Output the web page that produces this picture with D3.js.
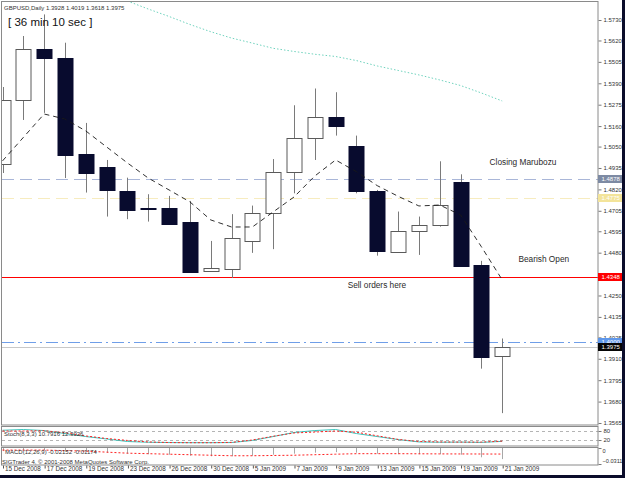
<!DOCTYPE html>
<html lang="en">
<head>
<meta charset="UTF-8">
<script src="https://cdnjs.cloudflare.com/ajax/libs/d3/7.8.4/d3.min.js"></script>
<title>GBPUSD Daily</title>
<style>
  body { margin: 0; background: #fff; }
  svg { display: block; font-family: "Liberation Sans", Arial, sans-serif; }
</style>
</head>
<body>
<script>
// ---- data ----
const dates = ["15 Dec 2008","16 Dec 2008","17 Dec 2008","18 Dec 2008","19 Dec 2008","22 Dec 2008","23 Dec 2008",
  "24 Dec 2008","26 Dec 2008","29 Dec 2008","30 Dec 2008","31 Dec 2008","5 Jan 2009","6 Jan 2009","7 Jan 2009",
  "8 Jan 2009","9 Jan 2009","12 Jan 2009","13 Jan 2009","14 Jan 2009","15 Jan 2009","16 Jan 2009","19 Jan 2009",
  "20 Jan 2009","21 Jan 2009"]
const opens  = [1.4957,1.5300,1.5573,1.5524,1.5009,1.4939,1.4813,1.4718,1.4722,1.4647,1.4382,1.4397,1.4539,
  1.4692,1.4910,1.5094,1.5207,1.5055,1.4813,1.4486,1.4600,1.4627,1.4862,1.4414,1.3928]
const highs  = [1.5370,1.5644,1.5760,1.5608,1.5177,1.4978,1.4883,1.4794,1.4785,1.4758,1.4543,1.4687,1.4733,
  1.4983,1.5272,1.5362,1.5342,1.5109,1.4817,1.4701,1.4674,1.4971,1.4901,1.4436,1.4019]
const lows   = [1.4908,1.5193,1.5231,1.4881,1.4803,1.4674,1.4660,1.4647,1.4636,1.4371,1.4378,1.4344,1.4479,
  1.4499,1.4799,1.4978,1.5109,1.4799,1.4464,1.4482,1.4468,1.4620,1.4409,1.3857,1.3618]
const closes = [1.5300,1.5573,1.5524,1.5005,1.4907,1.4813,1.4713,1.4716,1.4638,1.4378,1.4397,1.4561,1.4692,
  1.4912,1.5095,1.5207,1.5157,1.4812,1.4491,1.4598,1.4631,1.4736,1.4409,1.3922,1.3975]
const maFast = [1.4973,1.5099,1.5225,1.5198,1.5134,1.5048,1.4962,1.4881,1.4817,1.4753,1.4656,1.4618,1.4618,
  1.4699,1.4779,1.4892,1.4978,1.4915,1.4840,1.4783,1.4731,1.4736,1.4683,1.4512,1.4334]
const maSlow = [1.6079,1.6031,1.5988,1.5950,1.5913,1.5875,1.5832,1.5789,1.5749,1.5706,1.5667,1.5633,1.5606,
  1.5578,1.5561,1.5546,1.5534,1.5512,1.5483,1.5459,1.5435,1.5408,1.5378,1.5338,1.5295]
const stochMain   = [85,90,83,63,43,27,10,5,3,2,2,3,17,43,70,83,90,63,43,23,7,5,6,4,10.79]
const stochSignal = [80,80,82,68,47,30,17,7,3,2,2,4,20,45,67,73,80,72,48,24,10,7,6,6,12.30]
const macdHist   = [-0.006,-0.005,-0.004,-0.005,-0.007,-0.009,-0.011,-0.012,-0.013,-0.015,-0.016,-0.016,-0.015,
  -0.013,-0.011,-0.009,-0.008,-0.009,-0.011,-0.012,-0.012,-0.012,-0.013,-0.018,-0.02152]
const macdSignal = [-0.004,-0.004,-0.004,-0.005,-0.006,-0.008,-0.010,-0.011,-0.012,-0.013,-0.014,-0.015,-0.015,
  -0.0145,-0.014,-0.013,-0.012,-0.011,-0.011,-0.011,-0.0112,-0.0114,-0.0115,-0.0116,-0.01174]
const priceTicks = [1.5730,1.5620,1.5505,1.5390,1.5275,1.5160,1.5050,1.4935,1.4820,1.4705,1.4595,1.4480,
  1.4365,1.4250,1.4135,1.4025,1.3910,1.3795,1.3680,1.3565]
const levelPrices = [1.4878, 1.4775, 1.4348, 1.4000, 1.3975]
const noteTexts = ["Closing Marubozu", "Bearish Open", "Sell orders here"]
const notePrices = [1.4950, 1.4430, 1.4288]
const noteDates = ["19 Jan 2009", "20 Jan 2009", "9 Jan 2009"]

// ---- layout ----
const W = 625, H = 478
const L = 2, R = 598
const svg = d3.select("body").append("svg").attr("width", W).attr("height", H)

const x = d3.scalePoint().domain(dates).range([2.5, 502.2])
const y = d3.scaleLinear().domain([1.3565, 1.5730]).range([423, 20])
const sy = d3.scaleLinear().domain([0, 100]).range([443, 428])
const my = d3.scaleLinear().domain([-0.033, 0.002]).range([465, 447])
const cx = d => Math.round(x(d)) + 0.5

svg.append("rect").attr("width", W).attr("height", H).attr("fill", "#fff")

const defs = svg.append("defs")
defs.append("clipPath").attr("id", "mainclip").append("rect")
  .attr("x", L).attr("y", 1.5).attr("width", R - L).attr("height", 423.5)
defs.append("clipPath").attr("id", "stclip").append("rect")
  .attr("x", L).attr("y", 427).attr("width", R - L).attr("height", 19)
defs.append("clipPath").attr("id", "mdclip").append("rect")
  .attr("x", L).attr("y", 447).attr("width", R - L).attr("height", 18)

const main = svg.append("g").attr("clip-path", "url(#mainclip)")

// horizontal levels
const levelStyle = [
  {c: "#a9b6d8", dash: "12,6"},
  {c: "#f7ecbf", dash: "12,6"},
  {c: "red", dash: "none"},
  {c: "#6f9ee8", dash: "12,4,2,4"},
  {c: "#c8c8c8", dash: "none"}
]
levelPrices.forEach((p, i) => {
  main.append("rect").attr("x", L).attr("width", R - L)
    .attr("y", Math.round(y(p))).attr("height", 1)
    .attr("fill", levelStyle[i].dash === "none" ? levelStyle[i].c : "none")
  if (levelStyle[i].dash !== "none") {
    main.append("line").attr("x1", L).attr("x2", R)
      .attr("y1", Math.round(y(p)) + 0.5).attr("y2", Math.round(y(p)) + 0.5)
      .attr("stroke", levelStyle[i].c).attr("stroke-width", 1)
      .attr("stroke-dasharray", levelStyle[i].dash)
  }
})

// slow moving average (dotted teal)
main.append("path").datum(dates)
  .attr("d", d3.line().x(d => x(d)).y((d, i) => y(maSlow[i])))
  .attr("fill", "none").attr("stroke", "#6fd2bd").attr("stroke-width", 1).attr("stroke-dasharray", "1.5,2")

// candles
const candles = main.selectAll("g.candle").data(dates).enter().append("g").attr("class", "candle")
candles.append("line")
  .attr("x1", d => cx(d)).attr("x2", d => cx(d))
  .attr("y1", (d, i) => y(highs[i])).attr("y2", (d, i) => y(lows[i]))
  .attr("stroke", "#7a7a7a").attr("stroke-width", 1)
candles.append("rect")
  .attr("x", d => cx(d) - 7.5).attr("width", 15)
  .attr("y", (d, i) => Math.round(y(Math.max(opens[i], closes[i]))) + 0.5)
  .attr("height", (d, i) => Math.max(1, Math.round(Math.abs(y(opens[i]) - y(closes[i])))))
  .attr("fill", (d, i) => closes[i] >= opens[i] ? "#fff" : "#080b2e")
  .attr("stroke", (d, i) => closes[i] >= opens[i] ? "#5a5a5a" : "#080b2e")

// fast moving average (dashed black)
main.append("path").datum(dates)
  .attr("d", d3.line().x(d => x(d)).y((d, i) => y(maFast[i])))
  .attr("fill", "none").attr("stroke", "#1a1a1a").attr("stroke-width", 0.9).attr("stroke-dasharray", "5,4")

// annotations
noteTexts.forEach((t, i) => {
  const dx = [29, 37, 12][i]
  svg.append("text").attr("x", x(noteDates[i]) + dx).attr("y", y(notePrices[i]))
    .attr("font-size", 8.3).attr("fill", "#2a2a2a").text(t)
})

// title and timer
svg.append("text").attr("x", 4).attr("y", 10).attr("font-size", 6).attr("fill", "#333")
  .text("GBPUSD,Daily  1.3928 1.4019 1.3618 1.3975")
svg.append("text").attr("x", 8).attr("y", 26).attr("font-size", 11.5).attr("fill", "#111")
  .text("[ 36 min 10 sec ]")

// ---- stochastic panel ----
const st = svg.append("g").attr("clip-path", "url(#stclip)")
;[80, 20].forEach(v => {
  st.append("line").attr("x1", L).attr("x2", R).attr("y1", Math.round(sy(v)) + 0.5).attr("y2", Math.round(sy(v)) + 0.5)
    .attr("stroke", "#b4b4b4").attr("stroke-dasharray", "3,3")
})
st.append("path").datum(dates)
  .attr("d", d3.line().x(d => x(d)).y((d, i) => sy(stochMain[i])))
  .attr("fill", "none").attr("stroke", "#3cc3bb").attr("stroke-width", 1)
st.append("path").datum(dates)
  .attr("d", d3.line().x(d => x(d)).y((d, i) => sy(stochSignal[i])))
  .attr("fill", "none").attr("stroke", "#ff2020").attr("stroke-width", 1).attr("stroke-dasharray", "2,2")
svg.append("text").attr("x", 4).attr("y", 435.5).attr("font-size", 6).attr("fill", "#333")
  .text("Stoch(8,3,3) 10.7916 12.3026")

// ---- MACD panel ----
const md = svg.append("g").attr("clip-path", "url(#mdclip)")
md.selectAll("line.hist").data(dates).enter().append("line").attr("class", "hist")
  .attr("x1", d => cx(d)).attr("x2", d => cx(d))
  .attr("y1", my(0)).attr("y2", (d, i) => my(macdHist[i]))
  .attr("stroke", "#a8a8a8").attr("stroke-width", 1)
md.append("path").datum(dates)
  .attr("d", d3.line().x(d => x(d)).y((d, i) => my(macdSignal[i])))
  .attr("fill", "none").attr("stroke", "#ff2020").attr("stroke-width", 1).attr("stroke-dasharray", "2,2")
svg.append("text").attr("x", 5).attr("y", 453.5).attr("font-size", 6).attr("fill", "#333")
  .text("MACD(12,26,9) -0.02152 -0.01174")
svg.append("text").attr("x", 2).attr("y", 464).attr("font-size", 6).attr("fill", "#333")
  .text("SIGTrader 4, © 2001-2008 MetaQuotes Software Corp.")

// ---- panel borders ----
const border = "#8a8a8a"
svg.append("rect").attr("x", 1.5).attr("y", 1.5).attr("width", R - 1.5).attr("height", 423.5)
  .attr("fill", "none").attr("stroke", border)
svg.append("rect").attr("x", 1.5).attr("y", 426.5).attr("width", R - 1.5).attr("height", 19.5)
  .attr("fill", "none").attr("stroke", border)
svg.append("rect").attr("x", 1.5).attr("y", 447.5).attr("width", R - 1.5).attr("height", 17.5)
  .attr("fill", "none").attr("stroke", border)

// ---- price axis ----
const yAxis = svg.append("g").attr("transform", `translate(${R + 0.5},0)`)
  .call(d3.axisRight(y).tickValues(priceTicks).tickSize(3).tickPadding(2).tickFormat(d3.format(".4f")))
yAxis.select(".domain").remove()
yAxis.selectAll("line").attr("stroke", "#777")
yAxis.selectAll("text").attr("font-size", 6).attr("fill", "#333").attr("font-family", "Liberation Sans, Arial")

// level price boxes
const boxFill = ["#7d8aa3", "#f3e49a", "#ff0000", "#5f97ea", "#050505"]
levelPrices.forEach((p, i) => {
  const yy = Math.round(y(p))
  svg.append("rect").attr("x", R).attr("y", yy - 4).attr("width", 24).attr("height", 8).attr("fill", boxFill[i])
  svg.append("text").attr("x", R + 3.5).attr("y", yy + 2.2).attr("font-size", 6)
    .attr("fill", "#fff").text(d3.format(".4f")(p))
})

// sub-panel axes
const sAxis = svg.append("g").attr("transform", `translate(${R + 0.5},0)`)
  .call(d3.axisRight(sy).tickValues([80, 20]).tickSize(3).tickPadding(2))
sAxis.select(".domain").remove()
sAxis.selectAll("line").attr("stroke", "#777")
sAxis.selectAll("text").attr("font-size", 6).attr("fill", "#333")
const mAxis = svg.append("g").attr("transform", `translate(${R + 0.5},0)`)
  .call(d3.axisRight(my).tickValues([0, -0.03111]).tickSize(3).tickPadding(1).tickFormat(v => v === 0 ? "0" : d3.format(".5f")(v)))
mAxis.select(".domain").remove()
mAxis.selectAll("line").attr("stroke", "#777")
mAxis.selectAll("text").attr("font-size", 5.6).attr("fill", "#333")
  .attr("dy", (d, i) => i === 0 ? "0.8em" : "-0.25em")

// ---- date axis ----
const xAxis = svg.append("g").attr("transform", "translate(0,465.5)")
  .call(d3.axisBottom(x).tickValues(dates.filter((d, i) => i % 2 === 0)).tickSize(3).tickPadding(1))
xAxis.select(".domain").remove()
xAxis.selectAll("line").attr("stroke", "#555").attr("transform", "translate(0.5,0)")
xAxis.selectAll("text").attr("font-size", 6.3).attr("fill", "#333").attr("text-anchor", "start")
  .attr("dx", 2).attr("dy", "0.2em")

// dark window frame at right and bottom
svg.append("rect").attr("x", 622).attr("y", 0).attr("width", 3).attr("height", H).attr("fill", "#0b0c2a")
svg.append("rect").attr("x", 0).attr("y", 475).attr("width", W).attr("height", 3).attr("fill", "#0b0c2a")
</script>
</body>
</html>
